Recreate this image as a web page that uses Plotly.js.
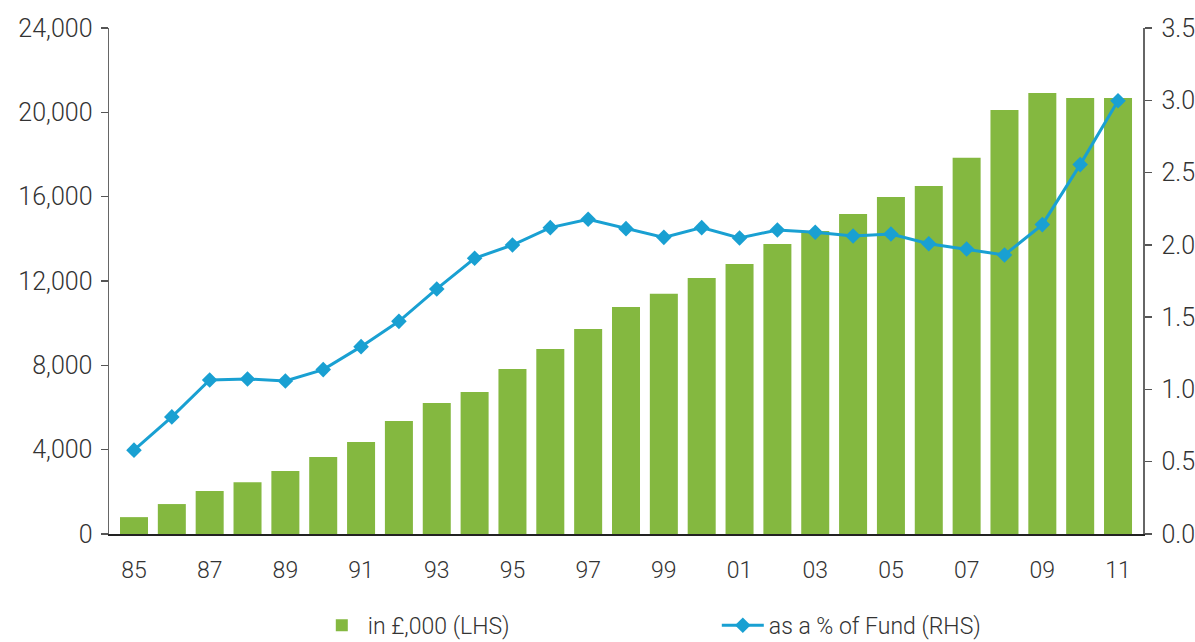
<!DOCTYPE html>
<html>
<head>
<meta charset="utf-8">
<script src="https://cdn.plot.ly/plotly-3.0.1.min.js"></script>
<style>
html,body{margin:0;padding:0;background:#fff;}
#chart{width:1195px;height:642px;}
</style>
</head>
<body>
<div id="chart"></div>
<script>
var years = ['85','86','87','88','89','90','91','92','93','94','95','96','97','98','99','00','01','02','03','04','05','06','07','08','09','10','11'];
var valueThousands = [800,1420,2040,2460,2990,3650,4360,5360,6210,6740,7830,8780,9720,10770,11390,12140,12810,13760,14370,15180,15990,16510,17840,20110,20920,20680,20680];
var pctOfFund = [0.58,0.81,1.065,1.072,1.058,1.137,1.296,1.471,1.695,1.907,1.999,2.119,2.177,2.112,2.052,2.119,2.047,2.103,2.087,2.061,2.075,2.008,1.971,1.93,2.14,2.555,2.997];
var xTickYears = ['85','87','89','91','93','95','97','99','01','03','05','07','09','11'];
var leftTicks = [0,4000,8000,12000,16000,20000,24000];
var leftTickText = ['0','4,000','8,000','12,000','16,000','20,000','24,000'];
var rightTicks = [0,0.5,1,1.5,2,2.5,3,3.5];
var rightTickText = ['0.0','0.5','1.0','1.5','2.0','2.5','3.0','3.5'];
var seriesNames = ['in £,000 (LHS)','as a % of Fund (RHS)'];

var green = '#84b840';
var blue = '#19a0d2';
var font = 'Roboto, Liberation Sans, Arial, sans-serif';

var traces = [
  {
    type: 'bar', x: years, y: valueThousands, name: seriesNames[0],
    marker: {color: green}, yaxis: 'y', hoverinfo: 'x+y'
  },
  {
    type: 'scatter', mode: 'lines+markers', x: years, y: pctOfFund, name: seriesNames[1],
    line: {color: blue, width: 3}, marker: {symbol: 'diamond', size: 12, color: blue},
    yaxis: 'y2'
  }
];

var layout = {
  width: 1195, height: 642,
  margin: {l: 109, r: 52, t: 28, b: 108, autoexpand: false},
  paper_bgcolor: '#fff', plot_bgcolor: '#fff',
  font: {family: font, color: '#333', weight: 300},
  bargap: 0.26,
  showlegend: true,
  legend: {
    orientation: 'h', x: 0.2, xanchor: 'left', y: -0.138, yanchor: 'top',
    font: {size: 23, color: '#333', family: font, weight: 300},
    itemwidth: 42, entrywidth: 344, entrywidthmode: 'pixels',
    traceorder: 'normal', bgcolor: 'rgba(0,0,0,0)'
  },
  xaxis: {
    type: 'category', range: [-0.66, 26.66],
    tickmode: 'array', tickvals: xTickYears, ticktext: xTickYears,
    ticks: '', showgrid: false, zeroline: false,
    showline: true, linecolor: '#222', linewidth: 1.5,
    tickfont: {size: 23, color: '#333', family: font, weight: 300},
    ticklabelstandoff: 15
  },
  yaxis: {
    range: [0, 24000], tickmode: 'array', tickvals: leftTicks, ticktext: leftTickText,
    ticks: 'outside', ticklen: 7, tickwidth: 1.5, tickcolor: '#555',
    showline: true, linecolor: '#666', linewidth: 1.5,
    showgrid: false, zeroline: false,
    tickfont: {size: 25, color: '#333', family: font, weight: 300},
    ticklabelstandoff: 3
  },
  yaxis2: {
    range: [0, 3.5], overlaying: 'y', side: 'right',
    tickmode: 'array', tickvals: rightTicks, ticktext: rightTickText,
    ticks: 'outside', ticklen: 7, tickwidth: 1.5, tickcolor: '#555',
    showline: true, linecolor: '#666', linewidth: 1.5,
    showgrid: false, zeroline: false,
    tickfont: {size: 25, color: '#333', family: font, weight: 300},
    ticklabelstandoff: 5
  }
};

Plotly.newPlot('chart', traces, layout, {displayModeBar: false, staticPlot: true});
</script>
</body>
</html>
